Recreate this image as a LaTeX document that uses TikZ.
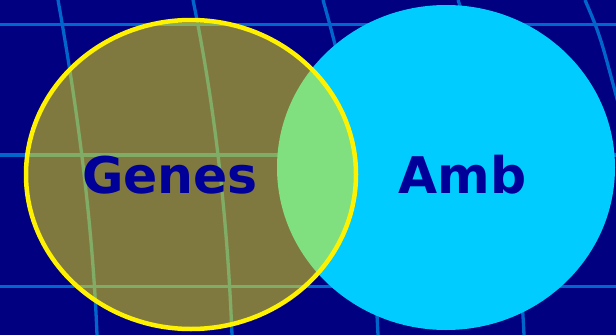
\documentclass[tikz,border=0pt]{standalone}
\usepackage{fontspec}
\setmainfont{DejaVu Sans}
\definecolor{navybg}{RGB}{0,0,128}
\definecolor{gridblue}{RGB}{0,102,204}
\definecolor{cyanfill}{RGB}{0,204,255}
\definecolor{labelblue}{RGB}{0,0,153}
\tikzset{
  gridline/.style={draw=gridblue, line width=3.3pt},
  label/.style={text=labelblue, font=\bfseries\fontsize{50.5}{50.5}\selectfont, anchor=base, inner sep=0pt},
}
\begin{document}
\begin{tikzpicture}[x=1pt,y=-1pt]
\useasboundingbox (0,0) rectangle (616,335);
\clip (0,0) rectangle (616,335);
\fill[navybg] (0,0) rectangle (616,335);
% grid
\draw[gridline] (0,24.5) -- (616,24.5);
\draw[gridline] (0,155) -- (616,155);
\draw[gridline] (0,286.5) -- (616,286.5);
\draw[gridline] (58,0) .. controls (78,112) and (92.5,223) .. (97,335);
\draw[gridline] (193,0) .. controls (216,112) and (227.5,223) .. (232,335);
\draw[gridline] (323,0) .. controls (355,112) and (373,223) .. (378,335);
\draw[gridline] (458,0) .. controls (497,112) and (519,223) .. (524,335);
\draw[gridline] (585,0) .. controls (600,35) .. (620,110);
% circles
\fill[cyanfill] (446,167.5) ellipse [x radius=169, y radius=162.5];
\fill[yellow, fill opacity=0.5] (191,174.5) ellipse [x radius=165, y radius=154.5];
\draw[yellow, line width=4.5pt] (191,174.5) ellipse [x radius=165, y radius=154.5];
% labels
\node[label] (genes) at (170,193) {Genes};
\node[label] (amb) at (462.5,193) {Amb};
\end{tikzpicture}
\end{document}
